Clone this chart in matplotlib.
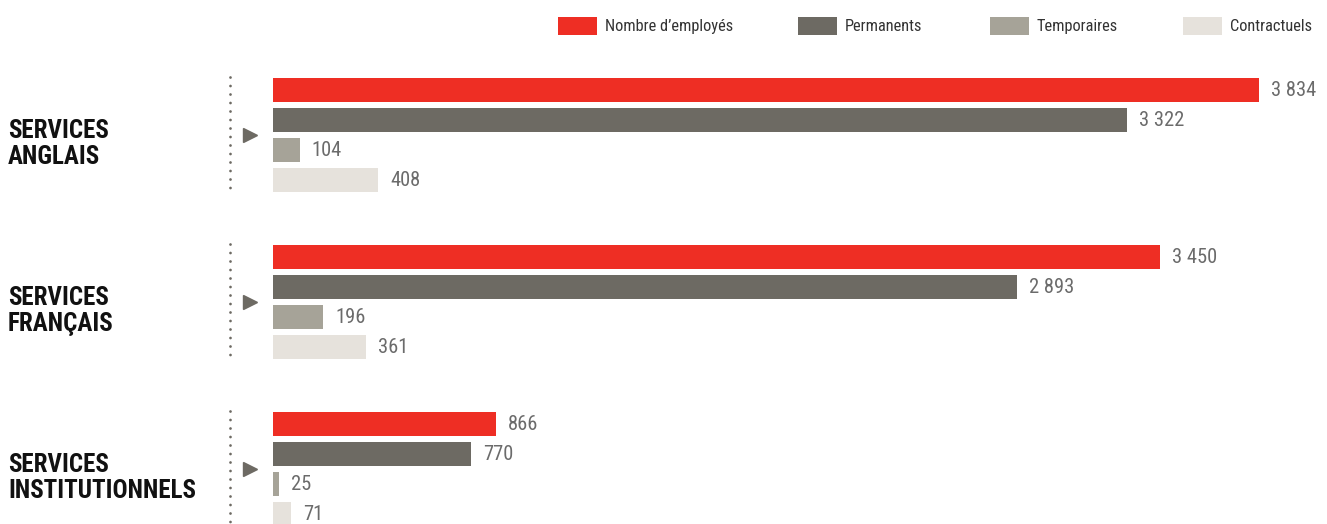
import numpy as np
import matplotlib.pyplot as plt
from matplotlib.patches import Rectangle
from matplotlib import font_manager

# the original uses a condensed face; take one if the box has it
have = {f.name for f in font_manager.fontManager.ttflist}
face = 'Roboto'
for cand in ['Roboto Condensed', 'Liberation Sans Narrow']:
    if cand in have:
        face = cand
        break
narrow = face != 'Roboto'
plt.rcParams['font.family'] = [face, 'DejaVu Sans']

## data
groups = ['SERVICES\nANGLAIS', 'SERVICES\nFRANÇAIS', 'SERVICES\nINSTITUTIONNELS']
series = ['Nombre d\u2019employés', 'Permanents', 'Temporaires', 'Contractuels']
employes = [3834, 3450, 866]
permanents = [3322, 2893, 770]
temporaires = [104, 196, 25]
contractuels = [408, 361, 71]

colors = ['#ee2e24', '#6d6a63', '#a6a398', '#e6e2dc']
values = [employes, permanents, temporaires, contractuels]

fs_val = 14.8 if narrow else 12.5
fs_grp = 18 if narrow else 15
fs_leg = 11.8 if narrow else 11

W, H = 1327, 524
fig = plt.figure(figsize=(W/100, H/100), dpi=100)

# pixel scale of the bars (~0.257 px per employee)
px_per_unit = 0.2572
x0 = 273
ax = fig.add_axes([x0/W, 0, (W-x0)/W, 1])
ax.set_xlim(0, (W-x0)/px_per_unit)
ax.set_ylim(H, 0)
ax.axis('off')

group_c = 135
group_step = 167
bar_step = 30
bar_h = 24

def fmt(v):
    return '{:,}'.format(v).replace(',', ' ')

for i, (vals, col) in enumerate(zip(values, colors)):
    ys = [group_c + g*group_step + (i-1.5)*bar_step for g in range(len(groups))]
    ax.barh(ys, vals, height=bar_h, color=col, left=0)
    for y, v in zip(ys, vals):
        ax.text(v + 12/px_per_unit, y + 0.5, fmt(v), va='center', ha='left',
                fontsize=fs_val, color='#6b6b6b')

## decorations in pixel coords
deco = fig.add_axes([0, 0, 1, 1], zorder=-1)
deco.set_xlim(0, W)
deco.set_ylim(H, 0)
deco.axis('off')

lw_dot = 2.0
for g, name in enumerate(groups):
    c = group_c + g*group_step
    deco.plot([230, 230], [c-58, c+60], color='#6d6a63', lw=lw_dot,
              linestyle=(0, (0.01, 6.1/lw_dot)), dash_capstyle='round')
    deco.plot(249.5, c, marker='>', color='#6d6a63', markersize=10.5)
    deco.text(8, c+9, name, ha='left', va='center', fontsize=fs_grp,
              fontweight='bold', color='#111111', linespacing=1.08 if narrow else 1.25)

# legend
leg_x = [558, 798, 990, 1183]
for lx, name, col in zip(leg_x, series, colors):
    deco.add_patch(Rectangle((lx, 17), 39, 18, color=col, lw=0))
    deco.text(lx + 47, 26.5, name, ha='left', va='center', fontsize=fs_leg, color='#333333')

fig.savefig('out.png', dpi=100)
